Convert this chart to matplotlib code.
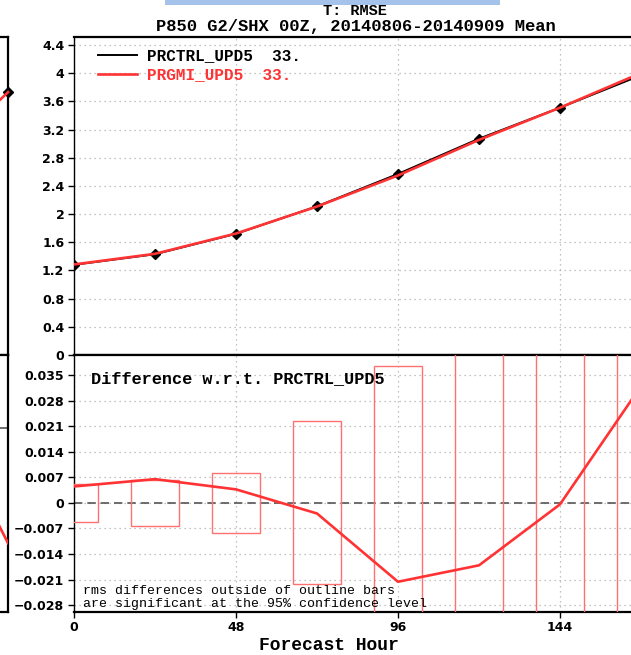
import matplotlib
matplotlib.use("Agg")
import matplotlib.pyplot as plt
from matplotlib.patches import Rectangle
from matplotlib.ticker import FuncFormatter

# forecast hours and scores
hours = [0, 24, 48, 72, 96, 120, 144, 168]
rmse_ctrl = [1.28, 1.43, 1.72, 2.11, 2.57, 3.07, 3.51, 3.97]
rmse_gmi = [1.285, 1.436, 1.724, 2.107, 2.548, 3.053, 3.510, 4.002]
diff_gmi = [0.0045, 0.0065, 0.0037, -0.0029, -0.0216, -0.0171, -0.0004, 0.032]
sig_half = [0.0053, 0.0062, 0.0082, 0.0223, 0.0374, 0.06, 0.06, 0.06]

# neighbouring panel, only its right edge shows
left_hours = [144, 168]
left_rmse = [2.63, 3.73]
left_diff = [0.012, -0.0315]

top_ticks = [0, 0.4, 0.8, 1.2, 1.6, 2, 2.4, 2.8, 3.2, 3.6, 4, 4.4]
diff_ticks = [-0.028, -0.021, -0.014, -0.007, 0, 0.007, 0.014, 0.021, 0.028, 0.035]
x_ticks = [0, 48, 96, 144]

W, H = 631, 655
RED = "#ff3333"
BOX = "#ff7070"
GRID = "#b0b0b0"
MONO = "Liberation Mono"


def fx(px):
    return px / W


def fy(px):
    return 1 - px / H


def fmt(v, pos):
    return ("%g" % v).replace("-", "\u2212")


fig = plt.figure(figsize=(W / 100, H / 100), dpi=100)

# axes geometry in pixels
x0, x1 = 74, 641
top_y0, mid_y, bot_y1 = 37, 355, 611.7

ax1 = fig.add_axes([fx(x0), fy(mid_y), fx(x1 - x0), (mid_y - top_y0) / H])
ax2 = fig.add_axes([fx(x0), fy(bot_y1), fx(x1 - x0), (bot_y1 - mid_y) / H])

for ax in (ax1, ax2):
    ax.set_xlim(0, 168)
    ax.set_xticks(x_ticks)
    ax.grid(True, linestyle=(0, (1, 3)), color=GRID, linewidth=0.9)
    ax.spines["right"].set_visible(False)
    ax.spines["top"].set_linewidth(1.6)
    ax.spines["bottom"].set_linewidth(1.6)
    ax.spines["left"].set_linewidth(1.0)
    ax.tick_params(axis="y", direction="out", length=4, width=1, pad=3)
    ax.yaxis.set_major_formatter(FuncFormatter(fmt))
    ax.set_axisbelow(True)

# top panel: RMSE
ax1.set_ylim(0, 4.513)
ax1.set_yticks(top_ticks)
ax1.tick_params(axis="x", length=0, labelbottom=False)
ax1.tick_params(axis="y", labelsize=9)
for lab in ax1.get_yticklabels():
    lab.set_fontweight("bold")
ax1.plot(hours, rmse_ctrl, color="black", lw=1.4, marker="D", ms=5, zorder=3)
ax1.plot(hours, rmse_gmi, color=RED, lw=1.9, zorder=4)

ax1.plot([0.0423, 0.111], [0.943, 0.943], color="black", lw=1.4, transform=ax1.transAxes)
ax1.plot([0.0423, 0.111], [0.883, 0.883], color=RED, lw=1.9, transform=ax1.transAxes)
ax1.text(0.1287, 0.943, "PRCTRL_UPD5  33.", transform=ax1.transAxes, va="center",
         fontsize=11.5, family=MONO, fontweight="bold", color="black")
ax1.text(0.1287, 0.883, "PRGMI_UPD5  33.", transform=ax1.transAxes, va="center",
         fontsize=11.5, family=MONO, fontweight="bold", color=RED)

# bottom panel: difference
ax2.set_ylim(-0.0298, 0.0405)
ax2.set_yticks(diff_ticks)
ax2.tick_params(axis="y", labelsize=9)
ax2.tick_params(axis="x", direction="out", length=4, width=1, labelsize=9, pad=3)
for lab in ax2.get_yticklabels() + ax2.get_xticklabels():
    lab.set_fontweight("bold")
ax2.axhline(0, color="#555555", lw=1.2, linestyle=(0, (5, 3)), zorder=2)
for h, s in zip(hours, sig_half):
    ax2.add_patch(Rectangle((h - 7.2, -s), 14.4, 2 * s, fill=False,
                            edgecolor=BOX, lw=1.0, zorder=3))
ax2.plot(hours, diff_gmi, color=RED, lw=1.9, zorder=4)

ax2.text(0.03, 0.91, "Difference w.r.t. PRCTRL_UPD5", transform=ax2.transAxes,
         va="center", fontsize=12.2, family=MONO, fontweight="bold")
ax2.text(0.015, 0.081, "rms differences outside of outline bars", transform=ax2.transAxes,
         va="center", fontsize=9.5, family=MONO)
ax2.text(0.015, 0.030, "are significant at the 95% confidence level", transform=ax2.transAxes,
         va="center", fontsize=9.5, family=MONO)

# neighbouring panel on the left, cut off by the crop
lx0 = 8 - (x1 - x0)
axl1 = fig.add_axes([fx(lx0), fy(mid_y), fx(x1 - x0), (mid_y - top_y0) / H])
axl2 = fig.add_axes([fx(lx0), fy(bot_y1), fx(x1 - x0), (bot_y1 - mid_y) / H])
for ax in (axl1, axl2):
    ax.set_xlim(0, 168)
    ax.set_xticks([])
    ax.set_yticks([])
    ax.spines["left"].set_visible(False)
    ax.spines["right"].set_linewidth(1.6)
    ax.spines["top"].set_linewidth(1.6)
    ax.spines["bottom"].set_linewidth(1.6)
axl1.set_ylim(0, 4.513)
axl1.plot(left_hours, left_rmse, color=RED, lw=1.9, clip_on=False, zorder=4)
axl1.plot(left_hours[-1:], left_rmse[-1:], color="black", marker="D", ms=5, clip_on=False)
axl2.set_ylim(-0.0503, 0.02)
axl2.axhline(0, color="#555555", lw=1.2, linestyle=(0, (5, 3)))
axl2.plot(left_hours, left_diff, color=RED, lw=1.9, zorder=4)

# titles
fig.text(fx(355), fy(11), "T: RMSE", ha="center", va="center",
         fontsize=11, family=MONO, fontweight="bold")
fig.text(fx(356), fy(26), "P850 G2/SHX 00Z, 20140806-20140909 Mean", ha="center",
         va="center", fontsize=12.3, family=MONO, fontweight="bold")
fig.text(fx(328.6), fy(645), "Forecast Hour", ha="center", va="center",
         fontsize=13, family=MONO, fontweight="bold")

# light blue strip at the top edge of the crop
fig.patches.append(Rectangle((fx(165), fy(5)), fx(335), 5 / H, transform=fig.transFigure,
                             facecolor="#a4c2ea", edgecolor="none"))

fig.savefig("out.png", dpi=100)
